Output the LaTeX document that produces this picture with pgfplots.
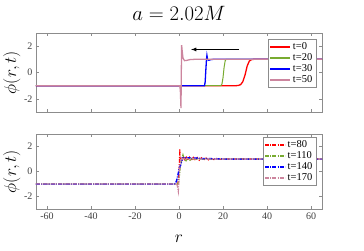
\documentclass[border=0pt]{standalone}
\usepackage{pgfplots}
\pgfplotsset{compat=1.18}
\usepackage{fontspec}
\setmainfont{Liberation Serif}
\definecolor{mgreen}{rgb}{0.47,0.67,0.19}
\definecolor{mpink}{rgb}{0.80,0.52,0.62}
\definecolor{axgray}{rgb}{0.55,0.55,0.55}
\definecolor{txgray}{rgb}{0.25,0.25,0.25}
\tikzset{dd/.style={dash pattern=on 4pt off 1.2pt on 1pt off 1.2pt}}
\pgfplotsset{
  myaxis/.style={
    scale only axis, width=286pt,
    xmin=-65, xmax=65, ymin=-3, ymax=3,
    xtick={-60,-40,-20,0,20,40,60}, ytick={-2,0,2},
    tick align=inside, tick pos=both,
    major tick length=3pt,
    axis line style={axgray, line width=0.6pt},
    every tick/.style={axgray, line width=0.5pt},
    tick label style={font=\fontsize{10}{12}\selectfont, txgray},
    /pgf/number format/assume math mode=true,
    ylabel={$\phi(r,t)$},
    ylabel style={at={(axis description cs:-0.085,0.5)}, anchor=center, font=\fontsize{16}{18}\selectfont},
    legend cell align=left,
    legend style={font=\fontsize{10.5}{12}\selectfont, draw=axgray, line width=0.5pt, inner sep=1.5pt, row sep=-1.5pt,
      at={(1,1)}, anchor=north east},
    legend image post style={line width=1.3pt},
    legend image code/.code={\draw[#1] (0pt,0pt) -- (20pt,0pt);},
    clip=true,
  },
}
\begin{document}
\begin{tikzpicture}
\path[use as bounding box] (0pt,0pt) rectangle (364pt,-250pt);
\node[font=\fontsize{20}{22}\selectfont] at (179pt,-13pt) {$a=2.02M$};
\begin{axis}[myaxis, at={(36pt,-112pt)}, anchor=south west, height=79pt,
  xticklabels={},
  legend style={xshift=-6pt, yshift=-6pt}]
\addplot[red, line width=1.3pt] coordinates {(-65,-1) (26,-1) (27,-0.98) (28,-0.92) (29,-0.7) (30,-0.2) (31,0.5) (32,0.88) (33,0.98) (34,1) (65,1)};
\addlegendentry{t=0}
\addplot[mgreen, line width=1.0pt] coordinates {(-65,-1) (19,-1) (19.5,-0.9) (20,-0.4) (20.5,0.4) (21,0.9) (21.5,1) (65,1)};
\addlegendentry{t=20}
\addplot[blue, line width=1.3pt] coordinates {(-65,-1) (11.6,-1) (11.9,-0.7) (12.2,0.2) (12.5,1.0) (12.7,1.3) (13.0,1.0) (13.5,0.93) (14.5,0.98) (15.5,1) (65,1)};
\addlegendentry{t=30}
\addplot[mpink, line width=1.3pt] coordinates {(-65,-1) (0.3,-1) (0.6,-1.3) (0.9,-2.7) (1.05,0) (1.2,2.08) (1.4,1.7) (1.8,1.1) (2.5,0.9) (3.5,0.92) (5,0.98) (7,1) (65,1)};
\addlegendentry{t=50}
\draw[-latex, line width=0.8pt, black] (axis cs:27.3,1.75) -- (axis cs:5.5,1.75);
\end{axis}
\begin{axis}[myaxis, at={(36pt,-209pt)}, anchor=south west, height=75pt,
  xlabel={$r$},
  xlabel style={at={(axis description cs:0.5,0)}, anchor=center, yshift=-30pt, font=\fontsize{16}{18}\selectfont},
  legend style={xshift=-6pt, yshift=-3pt},
  legend image post style={line width=1.3pt, dd}]
\addplot[red, line width=1.1pt, dd] coordinates {(-65,-1) (-0.6,-1) (-0.2,-0.6) (0.1,0.4) (0.35,1.82) (0.6,1.0) (1,0.75) (1.5,0.9) (2,1.2) (2.6,0.95) (3.3,1.15) (4,0.9) (4.8,1.15) (5.6,0.88) (6.5,1.13) (7.4,0.9) (8.3,1.12) (9.2,0.9) (10.2,1.1) (11.2,0.92) (12.3,1.08) (13.4,0.93) (14.6,1.06) (15.8,0.95) (17,1.05) (18.5,0.97) (20,1.02) (22,1) (65,1)};
\addlegendentry{t=80}
\addplot[mgreen, line width=1.1pt, dd] coordinates {(-65,-1) (-0.5,-1) (0,-0.7) (0.6,0.4) (1.2,1.0) (1.8,1.35) (2.4,1.0) (3.2,0.85) (4,1.1) (5,0.9) (6,1.08) (7,0.93) (8.5,1.05) (10,0.96) (12,1.03) (14,0.98) (17,1.01) (20,1) (65,1)};
\addlegendentry{t=110}
\addplot[blue, line width=1.5pt, dd] coordinates {(-65,-1) (-2,-1) (-1.2,-0.8) (-0.5,-0.3) (0.2,0.3) (0.7,0.5) (1.2,0.85) (1.8,1.1) (2.5,1.12) (3.5,1.05) (4.5,1.1) (6,1.05) (8,1.08) (10,1.03) (13,1.04) (16,1.01) (20,1) (65,1)};
\addlegendentry{t=140}
\addplot[mpink, line width=1.1pt, dd] coordinates {(-65,-1) (-1,-1) (-0.6,-1.3) (-0.3,-1.62) (0.1,-0.5) (0.5,0.6) (0.9,1.2) (1.4,0.95) (2,1.1) (2.8,0.95) (3.6,1.05) (4.6,0.97) (6,1.03) (8,0.99) (10,1.01) (12,1) (65,1)};
\addlegendentry{t=170}
\end{axis}
\end{tikzpicture}
\end{document}
